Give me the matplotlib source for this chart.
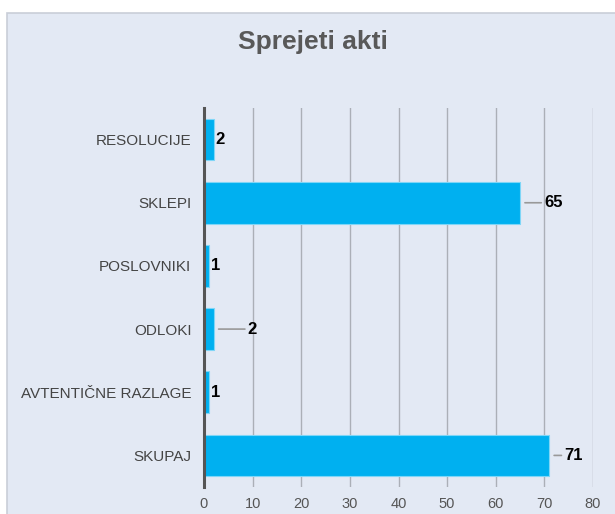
import matplotlib
matplotlib.use("Agg")
import matplotlib.pyplot as plt
from matplotlib.patches import Rectangle

plt.rcParams['font.family'] = ['Liberation Sans', 'DejaVu Sans']

categories = ["RESOLUCIJE", "SKLEPI", "POSLOVNIKI", "ODLOKI", "AVTENTIČNE RAZLAGE", "SKUPAJ"]
values = [2, 65, 1, 2, 1, 71]
label_offsets = [2, 24, 2, 34, 2, 15]  # label offsets in pixels (style)
xticks = [0, 10, 20, 30, 40, 50, 60, 70, 80]

W, H = 615, 514
fig = plt.figure(figsize=(W / 100, H / 100), dpi=100, facecolor="white")

bg = Rectangle((7 / W, -0.01), 1.0, 1 - 13 / H + 0.01, transform=fig.transFigure,
               facecolor="#E3E9F4", edgecolor="#C9CED8", linewidth=1.2, zorder=-5)
fig.add_artist(bg)

ax = fig.add_axes([204 / W, 1 - 487 / H, (593 - 204) / W, (487 - 108) / H])
ax.set_zorder(5)
ax.set_facecolor("none")

ypos = list(range(len(categories)))
ax.barh(ypos, values, height=0.66, color="#00B0F0", edgecolor="#7FD6F7",
        linewidth=0.8, zorder=3)
ax.set_ylim(len(categories) - 0.5, -0.5)
ax.set_xlim(0, 80)
ax.set_xticks(xticks)
ax.set_xticklabels([str(t) for t in xticks], color="#555555", fontsize=10.5)
ax.set_yticks(ypos)
ax.set_yticklabels(categories, color="#444444", fontsize=11)
ax.tick_params(axis="y", length=0, pad=9)
ax.tick_params(axis="x", length=0, pad=7)

ax.grid(axis="x", color="#ABAFB7", linewidth=1.0, zorder=1)
ax.set_axisbelow(True)
for s in ["top", "right", "bottom"]:
    ax.spines[s].set_visible(False)
ax.spines["left"].set_color("#555555")
ax.spines["left"].set_linewidth(2.2)
ax.spines["left"].set_zorder(4)

for y, v, off in zip(ypos, values, label_offsets):
    kw = dict(xy=(v, y), xytext=(off, 0), textcoords="offset pixels",
              ha="left", va="center", fontsize=12, fontweight="bold", color="black")
    if off > 4:
        kw["arrowprops"] = dict(arrowstyle="-", color="#999999", lw=1.2,
                                shrinkA=0, shrinkB=3.5)
    ax.annotate(str(v), **kw)

fig.text(313 / W, 1 - 42 / H, "Sprejeti akti", ha="center", va="center",
         fontsize=19, fontweight="bold", color="#595959")

fig.savefig("out.png", dpi=100, facecolor="white")
